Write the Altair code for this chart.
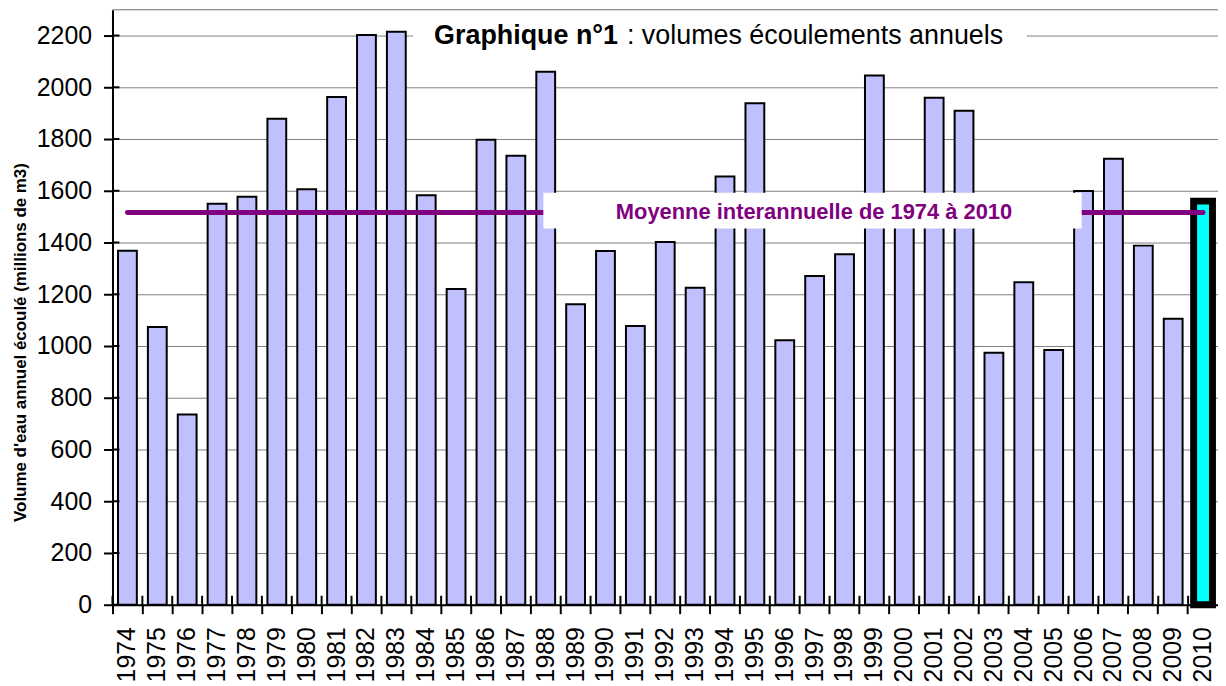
import altair as alt
import pandas as pd

annees = ["1974", "1975", "1976", "1977", "1978", "1979", "1980", "1981", "1982", "1983",
          "1984", "1985", "1986", "1987", "1988", "1989", "1990", "1991", "1992", "1993",
          "1994", "1995", "1996", "1997", "1998", "1999", "2000", "2001", "2002", "2003",
          "2004", "2005", "2006", "2007", "2008", "2009", "2010"]
volumes = [1368, 1073, 735, 1550, 1577, 1878, 1606, 1962, 2202, 2215,
           1583, 1220, 1797, 1735, 2060, 1161, 1367, 1077, 1402, 1225,
           1655, 1938, 1022, 1271, 1355, 2046, 1560, 1960, 1909, 974,
           1246, 985, 1599, 1724, 1388, 1105, 1560]
moyenne = 1516
graduations = [0, 200, 400, 600, 800, 1000, 1200, 1400, 1600, 1800, 2000, 2200]

titre_gras = "Graphique n°1"
titre_normal = ": volumes écoulements annuels"
texte_moyenne = "Moyenne interannuelle de 1974 à 2010"
titre_y = "Volume d'eau annuel écoulé (millions de m3)"

FONT = "Liberation Sans"
W, H = 1111, 598

df = pd.DataFrame({"annee": annees, "volume": volumes})
df_moy = pd.DataFrame({"debut": [annees[0]], "fin": [annees[-1]], "moyenne": [moyenne]})
df_grad = pd.DataFrame({"v": graduations})

x_enc = alt.X(
    "annee:N", sort=None, title=None,
    scale=alt.Scale(paddingInner=0, paddingOuter=0),
    axis=alt.Axis(labelAngle=270, labelAlign="right", labelBaseline="middle",
                  labelFontSize=25, labelColor="black", labelPadding=13, labelFont=FONT,
                  tickSize=9, tickWidth=2, tickColor="black", domainColor="black",
                  domainWidth=2, bandPosition=0, grid=False),
)
y_enc = alt.Y(
    "volume:Q",
    scale=alt.Scale(domain=[0, 2300], nice=False),
    axis=alt.Axis(values=graduations, format="d", title=titre_y, titleFontSize=17,
                  titleFontWeight="bold", titleColor="black", titleFont=FONT,
                  titleX=-92, titleY=334, titleAngle=270,
                  titleAlign="center", titleBaseline="middle",
                  labelFontSize=25, labelColor="black", labelFont=FONT, labelPadding=12,
                  tickSize=9, tickWidth=2, tickColor="black", domainColor="black",
                  domainWidth=2, grid=True, gridColor="#808080", gridWidth=1),
)

bordure = alt.Chart(df_moy).mark_rule(color="#808080", strokeWidth=1).encode(
    x=alt.value(0), x2=alt.value(W), y=alt.value(0))

barres = alt.Chart(df).mark_bar(width=alt.RelativeBandSize(0.63), stroke="black").encode(
    x=x_enc,
    y=y_enc,
    fill=alt.condition("datum.annee == '2010'", alt.value("#00FFFF"), alt.value("#C0C0FF")),
    strokeWidth=alt.condition("datum.annee == '2010'", alt.value(7), alt.value(2)),
)

ticks_x = alt.Chart(df).mark_rule(color="black", strokeWidth=2).encode(
    x=alt.X("annee:N", sort=None, bandPosition=0), y=alt.value(H - 9), y2=alt.value(H))
ticks_y = alt.Chart(df_grad).mark_rule(color="black", strokeWidth=2).encode(
    y=alt.Y("v:Q"), x=alt.value(0), x2=alt.value(7))

ligne_moy = alt.Chart(df_moy).mark_rule(color="#800080", strokeWidth=5, strokeCap="round").encode(
    x=alt.X("debut:N", sort=None), x2="fin:N", y=alt.Y("moyenne:Q"))

boite_moy = alt.Chart(df_moy).mark_rect(fill="white").encode(
    x=alt.value(433), x2=alt.value(974), y=alt.value(184), y2=alt.value(220))
texte_moy = alt.Chart(df_moy).mark_text(
    font=FONT, fontSize=22, fontWeight="bold", color="#800080", align="center", baseline="middle"
).encode(x=alt.value(705), y=alt.value(203), text=alt.value(texte_moyenne))

boite_titre = alt.Chart(df_moy).mark_rect(fill="white").encode(
    x=alt.value(302), x2=alt.value(919), y=alt.value(8), y2=alt.value(44))
titre1 = alt.Chart(df_moy).mark_text(
    font=FONT, fontSize=27, fontWeight="bold", color="black", align="right", baseline="middle"
).encode(x=alt.value(508), y=alt.value(26), text=alt.value(titre_gras))
titre2 = alt.Chart(df_moy).mark_text(
    font=FONT, fontSize=27, color="black", align="left", baseline="middle"
).encode(x=alt.value(517), y=alt.value(26), text=alt.value(titre_normal))

chart = alt.layer(
    bordure, barres, ticks_x, ticks_y, ligne_moy, boite_moy, texte_moy, boite_titre, titre1, titre2
).properties(
    width=W, height=H, autosize="none",
    padding={"left": 105, "top": 0, "right": 0, "bottom": 80},
    background="white",
).configure_view(stroke=None).configure(font=FONT)

chart.save("out.html", embed_options={"renderer": "svg", "actions": False})
